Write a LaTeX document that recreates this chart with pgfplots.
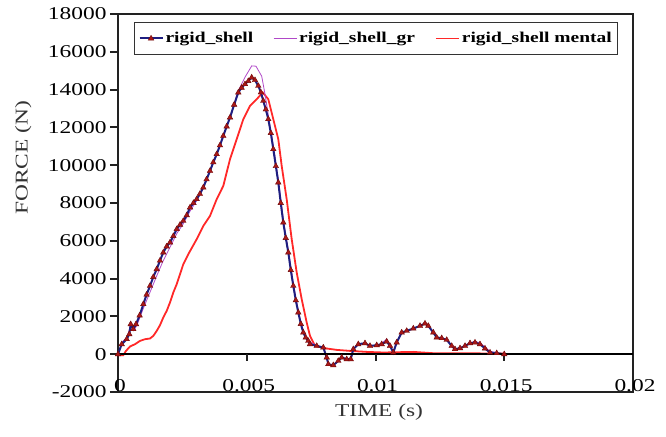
\documentclass[border=0pt]{standalone}
\usepackage{fontspec}
\setmainfont{Liberation Serif}[FakeStretch=1.3]
\usepackage{pgfplots}
\pgfplotsset{compat=1.18}
\definecolor{axiscol}{HTML}{222222}
\definecolor{navyline}{HTML}{1E1E80}
\definecolor{markred}{HTML}{A81818}
\definecolor{markedge}{HTML}{700808}
\definecolor{purp}{HTML}{B048C8}
\definecolor{redl}{HTML}{FF2828}
\begin{document}
\begin{tikzpicture}
\useasboundingbox (0,0) rectangle (666pt,436pt);
\begin{axis}[
 at={(118pt,44pt)}, anchor=south west,
 scale only axis, width=515pt, height=378pt,
 xmin=0, xmax=0.02, ymin=-2000, ymax=18000,
 axis line style={line width=2.2pt, color=axiscol},
 xtick={0,0.005,0.01,0.015,0.02},
 xticklabels={0,0.005,0.01,0.015,0.02},
 ytick={-2000,0,2000,4000,6000,8000,10000,12000,14000,16000,18000},
 yticklabels={-2000,0,2000,4000,6000,8000,10000,12000,14000,16000,18000},
 scaled x ticks=false, scaled y ticks=false,
 xtick style={draw=none},
 ytick pos=left, tick align=outside, major tick length=8pt,
 ytick style={line width=2pt,color=axiscol},
 tick label style={font=\fontsize{18}{20}\selectfont},
 xticklabel style={anchor=base, yshift=9pt, xshift=2pt},
 xlabel={TIME\hspace{6pt}(s)},
 ylabel={FORCE (N)},
 label style={font=\fontsize{18}{20}\selectfont, color=black!80},
 xlabel style={at={(axis description cs:0.507,-0.053)}, anchor=center},
 ylabel style={at={(axis description cs:-0.184,0.62)}, anchor=center},
 legend columns=3,
 reverse legend,
 legend style={at={(axis description cs:0.031,0.979)}, anchor=north west,
   draw=black!80, line width=1.2pt, font=\bfseries\fontsize{15}{17}\selectfont,
   inner ysep=8pt, inner xsep=4pt,
   /tikz/every even column/.append style={column sep=18pt}},
 legend image code/.code={\draw[mark repeat=2,mark phase=2,#1] plot coordinates {(0pt,0pt)(11.5pt,0pt)(23pt,0pt)};},
]
% rigid_shell mental
\addplot[redl, line width=1.8pt] coordinates {
(0,-50)(0.000206,-50)(0.000311,175)(0.000466,407)(0.000660,529)(0.000854,704)
(0.001049,794)(0.001243,831)(0.001371,968)(0.001503,1233)(0.001631,1534)
(0.001759,1942)(0.001891,2291)(0.002019,2735)(0.002148,3265)(0.002280,3704)
(0.002408,4233)(0.002536,4762)(0.002730,5291)(0.003056,6085)(0.003313,6788)
(0.003573,7317)(0.003833,8201)(0.004089,8905)(0.004350,10317)(0.004610,11376)
(0.004866,12434)(0.005126,13138)(0.005386,13492)(0.005620,13847)(0.005837,13492)
(0.006031,12434)(0.006225,11376)(0.006357,9963)(0.006551,8201)(0.006746,6085)
(0.006940,4323)(0.007134,2910)(0.007328,1677)(0.007456,968)(0.007650,439)
(0.008105,302)(0.008493,228)(0.009010,175)(0.009658,122)(0.010303,90)
(0.011468,122)(0.012233,53)(0.014990,37)
};
% rigid_shell_gr
\addplot[purp, line width=0.8pt] coordinates {
(0,0)(0.000155,635)(0.000350,899)(0.000493,1534)(0.000621,1270)(0.000738,1534)
(0.000971,2381)(0.001243,3280)(0.001515,4180)(0.001748,4921)(0.002019,5661)
(0.002291,6402)(0.002524,6878)(0.002796,7566)(0.003068,8148)(0.003301,8783)
(0.003573,9683)(0.003845,10582)(0.004089,11534)(0.004350,12540)(0.004660,13915)
(0.004932,14656)(0.005192,15254)(0.005359,15238)(0.005581,14709)(0.005709,13757)
(0.005864,12434)(0.006058,10847)(0.006252,8995)(0.006447,6878)(0.006641,5291)
(0.006835,3545)(0.007029,2116)(0.007223,1111)(0.007417,688)(0.007717,439)
(0.007973,354)(0.008105,-175)(0.008167,-529)(0.008361,-582)(0.008555,-354)
(0.008687,-175)(0.008882,-265)(0.009037,-265)(0.009138,265)(0.009332,529)
(0.009592,582)(0.009786,439)(0.010047,476)(0.010241,580)(0.010435,800)
(0.010563,500)(0.010691,90)(0.010823,619)(0.011017,1148)(0.011212,1233)
(0.011468,1360)(0.011728,1497)(0.011922,1624)(0.012050,1497)(0.012245,1148)
(0.012377,884)(0.012571,847)(0.012765,757)(0.012959,439)(0.013087,265)
(0.013282,317)(0.013476,439)(0.013670,600)(0.013864,680)(0.014058,600)
(0.014252,380)(0.014447,150)(0.014707,80)(0.015,0)
};
% rigid_shell
\addplot[navyline, line width=2pt, mark=triangle*,
  mark options={fill=markred, draw=markedge, line width=0.4pt},
  mark size=3.2pt] coordinates {
(0,0)(0.000144,529)(0.000338,794)(0.000439,1058)(0.000493,1587)(0.000594,1323)
(0.000699,1587)(0.000840,2050)(0.000983,2646)(0.001110,3150)(0.001243,3614)
(0.001370,4080)(0.001503,4497)(0.001630,4950)(0.001759,5381)(0.001890,5700)
(0.002019,5910)(0.002150,6250)(0.002280,6614)(0.002410,6850)(0.002536,7053)
(0.002670,7350)(0.002796,7762)(0.002930,8000)(0.003056,8201)(0.003180,8480)
(0.003313,8820)(0.003440,9250)(0.003573,9698)(0.003700,10150)(0.003833,10582)
(0.003960,11050)(0.004089,11550)(0.004220,12050)(0.004350,12524)(0.004510,13200)
(0.004672,13847)(0.004800,14100)(0.004932,14286)(0.005060,14450)(0.005192,14640)
(0.005320,14500)(0.005449,14196)(0.005550,13850)(0.005643,13402)(0.005740,12950)
(0.005837,12434)(0.005935,11700)(0.006031,10847)(0.006130,9950)(0.006225,9085)
(0.006320,8000)(0.006419,6968)(0.006515,6150)(0.006614,5381)(0.006710,4450)
(0.006808,3614)(0.006905,2850)(0.007002,2206)(0.007100,1600)(0.007196,1148)
(0.007290,880)(0.007390,704)(0.007456,529)
(0.007717,439)(0.007973,354)(0.008105,-175)(0.008167,-529)(0.008361,-582)
(0.008555,-354)(0.008687,-175)(0.008882,-265)(0.009037,-265)(0.009138,265)
(0.009332,529)(0.009592,582)(0.009786,439)(0.010047,476)(0.010241,529)
(0.010435,672)(0.010563,439)(0.010691,90)(0.010823,619)(0.011017,1148)
(0.011212,1233)(0.011468,1360)(0.011728,1497)(0.011922,1624)(0.012050,1497)
(0.012245,1148)(0.012377,884)(0.012571,847)(0.012765,757)(0.012959,439)
(0.013087,265)(0.013282,317)(0.013476,439)(0.013670,582)(0.013864,619)
(0.014058,529)(0.014252,302)(0.014447,90)(0.014707,53)(0.015,0)
};
\legend{rigid\_shell mental, rigid\_shell\_gr, rigid\_shell}
\draw[line width=2pt, color=black] (axis cs:0,0) -- (axis cs:0.02,0);
\pgfplotsinvokeforeach{0.005,0.01,0.015}{\draw[line width=2pt, color=axiscol] (axis cs:#1,0) -- ([yshift=-7pt]axis cs:#1,0);}
\end{axis}
\end{tikzpicture}
\end{document}
